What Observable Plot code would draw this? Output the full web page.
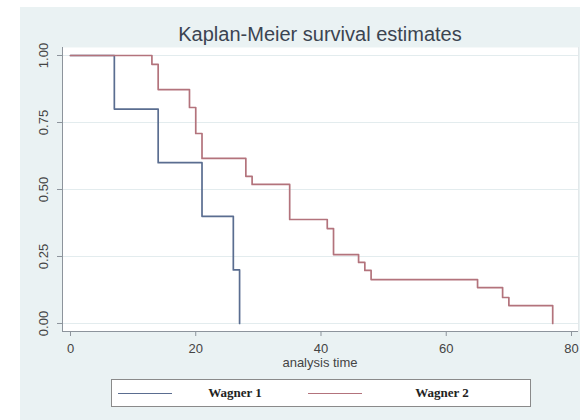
<!DOCTYPE html>
<html><head><meta charset="utf-8">
<script src="https://cdn.jsdelivr.net/npm/d3@7"></script>
<script src="https://cdn.jsdelivr.net/npm/@observablehq/plot@0.6"></script>
<style>
html,body{margin:0;padding:0;background:#fff;}
#wrap{position:relative;width:580px;height:420px;overflow:hidden;background:#fff;font-family:"Liberation Sans",Arial,sans-serif;}
#bg{position:absolute;left:20px;top:7px;right:0;bottom:0;background:#eaf2f3;}
#title{position:absolute;left:62px;width:516px;top:24px;line-height:20px;text-align:center;font-size:20px;color:#3b4451;white-space:nowrap;}
#chart{position:absolute;left:0;top:0;}
#xlabel{position:absolute;left:62px;width:516px;top:356px;line-height:13px;text-align:center;font-size:13px;color:#444;}
#legend{position:absolute;left:111px;top:379px;width:420px;height:28px;box-sizing:border-box;border:1px solid #8a8a8a;background:#fff;}
.key{position:absolute;top:13px;height:0;border-top:1.6px solid;}
.lab{position:absolute;top:6px;line-height:14px;font-family:"Liberation Serif","Times New Roman",serif;font-weight:bold;font-size:13px;color:#222;text-align:center;width:90px;}
</style></head>
<body>
<div id="wrap">
  <div id="bg"></div>
  <div id="title">Kaplan-Meier survival estimates</div>
  <div id="chart"></div>
  <div id="xlabel">analysis time</div>
  <div id="legend"></div>
</div>
<script>
// Wagner 1
const time1 = [0, 7, 14, 21, 26, 27];
const surv1 = [1, 0.8, 0.6, 0.4, 0.2, 0];
// Wagner 2
const time2 = [0, 13, 14, 19, 20, 21, 28, 29, 35, 41, 42, 46, 47, 48, 65, 69, 70, 77];
const surv2 = [1, 0.967, 0.873, 0.806, 0.709, 0.616, 0.549, 0.519, 0.388, 0.354, 0.257, 0.228, 0.198, 0.164, 0.134, 0.097, 0.067, 0];
const groups = ["Wagner 1", "Wagner 2"];
const colors = ["#5a6d90", "#b3737c"];
const xTicks = [0, 20, 40, 60, 80];
const yTicks = [0, 0.25, 0.5, 0.75, 1];

const data1 = time1.map((t, i) => ({t, s: surv1[i], g: groups[0]}));
const data2 = time2.map((t, i) => ({t, s: surv2[i], g: groups[1]}));

const chart = Plot.plot({
  width: 580,
  height: 372,
  marginLeft: 62,
  marginRight: 2,
  marginTop: 47,
  marginBottom: 41,
  style: {background: "transparent", fontFamily: "Liberation Sans, Arial, sans-serif", fontSize: "13px", color: "#444"},
  x: {domain: [-1.277, 81.118]},
  y: {domain: [-0.0299, 1.0299]},
  marks: [
    Plot.frame({fill: "white", stroke: null}),
    Plot.gridY(yTicks, {stroke: "#e3ecee", strokeOpacity: 1}),
    Plot.frame({anchor: "left", stroke: "#8d949c"}),
    Plot.frame({anchor: "bottom", stroke: "#8d949c"}),
    Plot.frame({anchor: "right", stroke: "#e3e8ea"}),
    Plot.axisX(xTicks, {tickSize: 5, tickPadding: 7, stroke: "#8d949c", fill: "#444", label: null, fontSize: 13}),
    Plot.axisY(yTicks, {tickSize: 5, tickPadding: 10, tickRotate: -90, tickFormat: d3.format(".2f"), stroke: "#8d949c", fill: "#444", label: null, fontSize: 13}),
    Plot.line(data1, {x: "t", y: "s", curve: "step-after", stroke: colors[0], strokeWidth: 1.7}),
    Plot.line(data2, {x: "t", y: "s", curve: "step-after", stroke: colors[1], strokeWidth: 1.7})
  ]
});
document.getElementById("chart").appendChild(chart);

const legend = document.getElementById("legend");
const keyLeft = [6, 196];
const labLeft = [78, 285];
groups.forEach((g, i) => {
  const k = document.createElement("div");
  k.className = "key";
  k.style.left = keyLeft[i] + "px";
  k.style.width = "54px";
  k.style.borderTopColor = colors[i];
  legend.appendChild(k);
  const l = document.createElement("div");
  l.className = "lab";
  l.style.left = labLeft[i] + "px";
  l.textContent = g;
  legend.appendChild(l);
});
</script>
</body></html>
